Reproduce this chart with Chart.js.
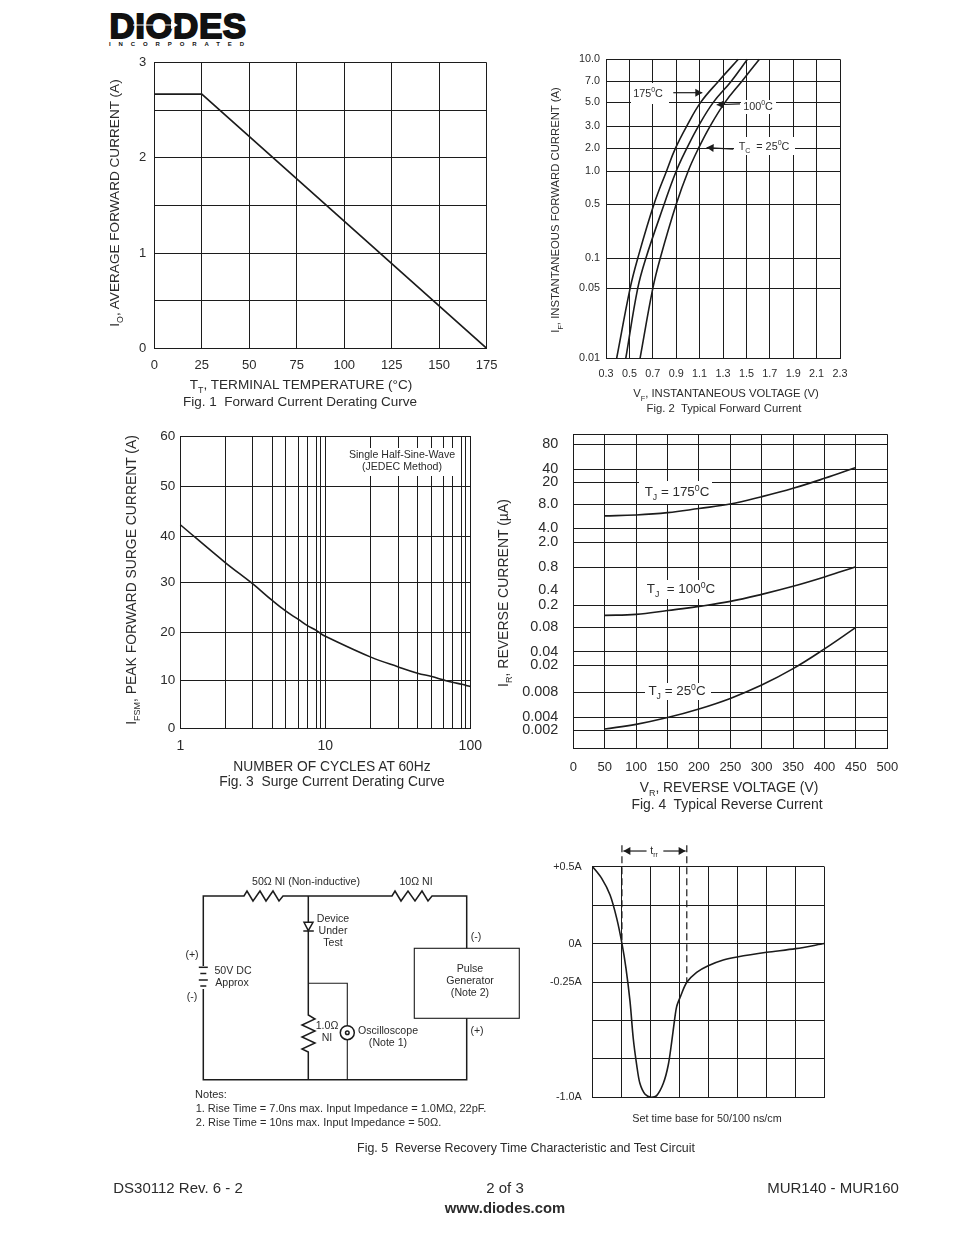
<!DOCTYPE html>
<html>
<head>
<meta charset="utf-8">
<title>MUR140 - MUR160</title>
<script src="https://cdn.jsdelivr.net/npm/chart.js@4/dist/chart.umd.min.js"></script>
<style>
html, body { margin: 0; padding: 0; background: #fff; }
body { position: relative; width: 954px; height: 1235px; overflow: hidden; font-family: "Liberation Sans", Arial, sans-serif; color: #2b2b2b; }
canvas { position: absolute; }
svg { position: absolute; left: 0; top: 0; }
.t { position: absolute; white-space: nowrap; transform: translate(-50%, -50%); line-height: 1; }
.v { transform: translate(-50%, -50%) rotate(-90deg); }
.t sub, .t sup { font-size: 65%; line-height: 0; }
.w { position: absolute; background: #fff; }
</style>
</head>
<body>
<canvas id="fig1" width="400" height="330" style="left:100px;top:50px"></canvas>
<canvas id="fig2" width="330" height="340" style="left:560px;top:45px"></canvas>
<canvas id="fig3" width="350" height="330" style="left:140px;top:425px"></canvas>
<canvas id="fig4" width="400" height="350" style="left:510px;top:425px"></canvas>
<canvas id="fig5" width="295" height="275" style="left:545px;top:835px"></canvas>

<!-- white label boxes that interrupt the grids -->
<div class="w" style="left:631px;top:83px;width:38px;height:21px"></div>
<div class="w" style="left:741px;top:100px;width:35px;height:14px"></div>
<div class="w" style="left:734px;top:137px;width:61px;height:18px"></div>
<div class="w" style="left:350px;top:448px;width:107px;height:28px"></div>
<div class="w" style="left:639px;top:481px;width:73px;height:23px"></div>
<div class="w" style="left:645px;top:580px;width:72px;height:19px"></div>
<div class="w" style="left:645px;top:683px;width:66px;height:17px"></div>

<!-- logo -->
<div class="t" style="left:178px;top:25px;font-size:35px;font-weight:bold;color:#111;-webkit-text-stroke:1.8px #111;letter-spacing:0.5px">DIODES</div>
<div class="t" style="left:180.5px;top:44px;font-size:6px;font-weight:bold;color:#111;letter-spacing:7.9px">INCORPORATED</div>

<!-- logo mark and test circuit -->
<svg width="954" height="1235" viewBox="0 0 954 1235">
  <line x1="133" y1="25" x2="176" y2="25" stroke="#fff" stroke-width="1.2"/>
  <polygon points="171,21 171,29 178,25" fill="#fff"/>
  <g fill="none" stroke="#1c1c1c" stroke-width="1.5">
    <polyline points="203.3,966 203.3,896 244,896 247,891 253,901 260,891 266,901 273,891 279,901 283,896 392,896 395,891 401,901 408,891 415,901 422,891 428,901 432,896 466.7,896 466.7,948.3"/>
    <polyline points="466.7,1018.3 466.7,1079.7 203.3,1079.7 203.3,989"/>
    <polyline points="308.3,896 308.3,1015 315,1019 302,1025 315,1031 302,1037 315,1043 302,1049 308.3,1052 308.3,1079.7"/>
    <polyline points="308.3,983.3 347.3,983.3 347.3,1025.7" stroke-width="1.1"/>
    <line x1="347.3" y1="1039.7" x2="347.3" y2="1079.7" stroke-width="1.1"/>
    <circle cx="347.3" cy="1032.7" r="7"/>
    <circle cx="347.3" cy="1032.7" r="1.8"/>
    <rect x="414.3" y="948.3" width="105" height="70" stroke-width="1.1"/>
    <line x1="198.8" y1="967.3" x2="207.8" y2="967.3"/>
    <line x1="200.3" y1="973.5" x2="206.3" y2="973.5"/>
    <line x1="198.8" y1="980" x2="207.8" y2="980"/>
    <line x1="200.3" y1="986" x2="206.3" y2="986"/>
    <polygon points="304,922.3 313,922.3 308.3,930.7" fill="#fff"/>
    <line x1="303.3" y1="931" x2="313.8" y2="931"/>
  </g>
</svg>

<!-- Fig. 1 text -->
<div class="t v" style="left:115px;top:203px;font-size:13.6px">I<sub>O</sub>, AVERAGE FORWARD CURRENT (A)</div>
<div class="t" style="left:301px;top:385px;font-size:13.6px">T<sub>T</sub>, TERMINAL TEMPERATURE (°C)</div>
<div class="t" style="left:300px;top:402px;font-size:13.5px">Fig. 1&nbsp; Forward Current Derating Curve</div>

<!-- Fig. 2 text -->
<div class="t v" style="left:556px;top:210px;font-size:11.3px">I<sub>F</sub>, INSTANTANEOUS FORWARD CURRENT (A)</div>
<div class="t" style="left:726px;top:394px;font-size:11.3px">V<sub>F</sub>, INSTANTANEOUS VOLTAGE (V)</div>
<div class="t" style="left:724px;top:409px;font-size:11.3px">Fig. 2&nbsp; Typical Forward Current</div>
<div class="t" style="left:648px;top:93px;font-size:10.8px">175<sup>0</sup>C</div>
<div class="t" style="left:758px;top:106px;font-size:10.8px">100<sup>0</sup>C</div>
<div class="t" style="left:764px;top:146px;font-size:10.8px">T<sub>C</sub>&nbsp; = 25<sup>0</sup>C</div>

<!-- Fig. 3 text -->
<div class="t v" style="left:132px;top:580px;font-size:13.9px">I<sub>FSM</sub>, PEAK FORWARD SURGE CURRENT (A)</div>
<div class="t" style="left:332px;top:767px;font-size:13.8px">NUMBER OF CYCLES AT 60Hz</div>
<div class="t" style="left:332px;top:782px;font-size:13.8px">Fig. 3&nbsp; Surge Current Derating Curve</div>
<div class="t" style="left:402px;top:454px;font-size:10.6px">Single Half-Sine-Wave</div>
<div class="t" style="left:402px;top:466px;font-size:10.6px">(JEDEC Method)</div>

<!-- Fig. 4 text -->
<div class="t v" style="left:503px;top:593px;font-size:14px">I<sub>R</sub>, REVERSE CURRENT (µA)</div>
<div class="t" style="left:729px;top:788px;font-size:13.8px">V<sub>R</sub>, REVERSE VOLTAGE (V)</div>
<div class="t" style="left:727px;top:805px;font-size:13.9px">Fig. 4&nbsp; Typical Reverse Current</div>
<div class="t" style="left:677px;top:492px;font-size:13.4px">T<sub>J</sub> = 175<sup>0</sup>C</div>
<div class="t" style="left:681px;top:589px;font-size:13.4px">T<sub>J</sub>&nbsp; = 100<sup>0</sup>C</div>
<div class="t" style="left:677px;top:691px;font-size:13.4px">T<sub>J</sub> = 25<sup>0</sup>C</div>

<!-- Fig. 5 text -->
<div class="t" style="left:654px;top:850px;font-size:10.5px">t<sub>rr</sub></div>
<div class="t" style="left:707px;top:1118px;font-size:10.8px">Set time base for 50/100 ns/cm</div>
<div class="t" style="left:526px;top:1148px;font-size:12.4px">Fig. 5&nbsp; Reverse Recovery Time Characteristic and Test Circuit</div>
<div class="t" style="left:306px;top:881px;font-size:10.6px">50Ω NI (Non-inductive)</div>
<div class="t" style="left:416px;top:881px;font-size:10.6px">10Ω NI</div>
<div class="t" style="left:333px;top:918px;font-size:10.6px">Device</div>
<div class="t" style="left:333px;top:930px;font-size:10.6px">Under</div>
<div class="t" style="left:333px;top:942px;font-size:10.6px">Test</div>
<div class="t" style="left:192px;top:954px;font-size:10.6px">(+)</div>
<div class="t" style="left:192px;top:996px;font-size:10.6px">(-)</div>
<div class="t" style="left:233px;top:970px;font-size:10.6px">50V DC</div>
<div class="t" style="left:232px;top:982px;font-size:10.6px">Approx</div>
<div class="t" style="left:476px;top:936px;font-size:10.6px">(-)</div>
<div class="t" style="left:477px;top:1030px;font-size:10.6px">(+)</div>
<div class="t" style="left:470px;top:968px;font-size:10.6px">Pulse</div>
<div class="t" style="left:470px;top:980px;font-size:10.6px">Generator</div>
<div class="t" style="left:470px;top:992px;font-size:10.6px">(Note 2)</div>
<div class="t" style="left:327px;top:1025px;font-size:10.6px">1.0Ω</div>
<div class="t" style="left:327px;top:1037px;font-size:10.6px">NI</div>
<div class="t" style="left:388px;top:1030px;font-size:10.6px">Oscilloscope</div>
<div class="t" style="left:388px;top:1042px;font-size:10.6px">(Note 1)</div>
<div class="t" style="left:211px;top:1094px;font-size:11px">Notes:</div>
<div class="t" style="left:341px;top:1108px;font-size:11px">1. Rise Time = 7.0ns max. Input Impedance = 1.0MΩ, 22pF.</div>
<div class="t" style="left:318.5px;top:1122px;font-size:11px">2. Rise Time = 10ns max. Input Impedance = 50Ω.</div>

<!-- footer -->
<div class="t" style="left:178px;top:1187px;font-size:15px">DS30112 Rev. 6 - 2</div>
<div class="t" style="left:505px;top:1187px;font-size:15px">2 of 3</div>
<div class="t" style="left:833px;top:1187px;font-size:15px">MUR140 - MUR160</div>
<div class="t" style="left:505px;top:1208px;font-size:14.8px;font-weight:bold">www.diodes.com</div>

<script>
// Fig. 1 forward current derating
const derateTemp = [0, 25, 175];
const derateAmps = [2.67, 2.67, 0];
const derateTempTicks = [0, 25, 50, 75, 100, 125, 150, 175];

// Fig. 2 typical forward current
const forwardAmps = [0.01, 0.05, 0.1, 0.5, 1, 2, 3, 5, 7, 10];
const forwardVolts175 = [0.391, 0.506, 0.571, 0.71, 0.816, 0.893, 0.989, 1.109, 1.26, 1.431];
const forwardVolts100 = [0.469, 0.571, 0.64, 0.797, 0.899, 0.99, 1.089, 1.217, 1.369, 1.509];
const forwardVolts25 = [0.591, 0.7, 0.763, 0.9, 1.001, 1.09, 1.189, 1.317, 1.46, 1.611];
const forwardVoltTicks = [0.3, 0.5, 0.7, 0.9, 1.1, 1.3, 1.5, 1.7, 1.9, 2.1, 2.3];
// the printed axis is hand spaced, so each tick keeps its own place along the axis
const forwardAmpStops = [0, 0.234, 0.334, 0.515, 0.625, 0.702, 0.776, 0.856, 0.926, 1];

// Fig. 3 surge current
const surgeCycles = [1, 2, 3, 4, 5, 6, 7, 8, 9, 10, 20, 30, 40, 50, 60, 70, 80, 90, 100];
const surgeAmps = [42.3, 34.3, 29.8, 26.4, 24.3, 22.6, 21.4, 20.4, 19.8, 19.2, 14.9, 12.8, 11.5, 10.8, 10.1, 9.6, 9.2, 9, 8.7];
const surgeCycleStops = [0, 0.155, 0.248, 0.317, 0.363, 0.407, 0.437, 0.469, 0.483, 0.5, 0.655, 0.752, 0.818, 0.867, 0.907, 0.938, 0.97, 0.984, 1];
const surgeAmpTicks = [0, 10, 20, 30, 40, 50, 60];
const surgeAmpStops = [0, 0.164, 0.328, 0.499, 0.657, 0.828, 1];

// Fig. 4 typical reverse current
const reverseVolts = [50, 100, 150, 200, 250, 300, 350, 400, 450];
const reverseAmps175 = [5.75, 5.9, 6.3, 7.1, 8.1, 11, 15.6, 24.7, 41.9];
const reverseAmps100 = [0.132, 0.138, 0.162, 0.192, 0.24, 0.329, 0.448, 0.596, 0.82];
const reverseAmps25 = [0.00215, 0.00275, 0.00393, 0.00504, 0.00677, 0.01026, 0.0179, 0.0432, 0.08];
const reverseVoltTicks = [0, 50, 100, 150, 200, 250, 300, 350, 400, 450, 500];
const reverseAmpTicks = [0.001, 0.002, 0.004, 0.008, 0.02, 0.04, 0.08, 0.2, 0.4, 0.8, 2, 4, 8, 20, 40, 80, 200];
const reverseAmpLabels = ['', '0.002', '0.004', '0.008', '0.02', '0.04', '0.08', '0.2', '0.4', '0.8', '2.0', '4.0', '8.0', '20', '40', '80', ''];
const reverseAmpStops = [0, 0.057, 0.099, 0.178, 0.264, 0.308, 0.385, 0.455, 0.504, 0.576, 0.656, 0.7, 0.777, 0.847, 0.889, 0.968, 1];

// Fig. 5 reverse recovery waveform, time in graticule divisions
const recoveryTime = [0, 0.31, 0.6, 0.83, 1.01, 1.15, 1.29, 1.4, 1.52, 1.63, 1.81, 2.03, 2.21, 2.44, 2.61, 2.73, 2.82, 2.9, 3.03, 3.25, 3.59, 3.99, 4.51, 4.99, 6.01, 7.01, 8];
const recoveryAmps = [0.5, 0.424, 0.316, 0.164, 0.001, -0.161, -0.378, -0.616, -0.79, -0.909, -0.98, -1, -0.989, -0.909, -0.79, -0.638, -0.508, -0.41, -0.345, -0.252, -0.187, -0.144, -0.107, -0.087, -0.057, -0.033, 0];
const recoveryAmpTicks = [-1, -0.75, -0.5, -0.25, 0, 0.25, 0.5];
const recoveryAmpLabels = { '0.5': '+0.5A', '0': '0A', '-0.25': '-0.25A', '-1': '-1.0A' };
const trrStart = 1.01;
const trrEnd = 3.25;

const INK = '#1c1c1c';
const TEXT = '#2b2b2b';
Chart.defaults.font.family = '"Liberation Sans", Arial, sans-serif';
Chart.defaults.color = TEXT;

// axis whose ticks sit at given places, interpolated between them
class StopScale extends Chart.Scale {
  static id = 'stops';
  static defaults = {};
  determineDataLimits() {
    const vals = this.options.tickValues;
    this.min = vals[0];
    this.max = vals[vals.length - 1];
  }
  buildTicks() {
    return Array.from(this.options.tickValues, v => ({ value: v }));
  }
  toAxis(v) {
    return this.options.logSpaced ? Math.log(v) : v;
  }
  getPixelForValue(value) {
    const vals = this.options.tickValues;
    const stops = this.options.stops;
    let i = 0;
    while (i < vals.length - 2 && value > vals[i + 1]) i++;
    const f = (this.toAxis(value) - this.toAxis(vals[i])) / (this.toAxis(vals[i + 1]) - this.toAxis(vals[i]));
    return this.getPixelForDecimal(stops[i] + f * (stops[i + 1] - stops[i]));
  }
  getValueForPixel(pixel) {
    const d = this.getDecimalForPixel(pixel);
    const vals = this.options.tickValues;
    const stops = this.options.stops;
    let i = 0;
    while (i < stops.length - 2 && d > stops[i + 1]) i++;
    return vals[i] + (d - stops[i]) / (stops[i + 1] - stops[i]) * (vals[i + 1] - vals[i]);
  }
  getLabelForValue(value) {
    return String(value);
  }
}
Chart.register(StopScale);

// small filled arrows, given in data values
const arrowPlugin = {
  id: 'arrows',
  afterDatasetsDraw(chart, args, opts) {
    const { ctx, scales } = chart;
    (opts.list || []).forEach(a => {
      const x1 = scales.x.getPixelForValue(a[0]);
      const y1 = scales.y.getPixelForValue(a[1]);
      const x2 = scales.x.getPixelForValue(a[2]);
      const y2 = scales.y.getPixelForValue(a[3]);
      const ang = Math.atan2(y2 - y1, x2 - x1);
      ctx.save();
      ctx.strokeStyle = INK;
      ctx.fillStyle = INK;
      ctx.lineWidth = 1.2;
      ctx.beginPath();
      ctx.moveTo(x1, y1);
      ctx.lineTo(x2, y2);
      ctx.stroke();
      ctx.translate(x2, y2);
      ctx.rotate(ang);
      ctx.beginPath();
      ctx.moveTo(0, 0);
      ctx.lineTo(-7, -4);
      ctx.lineTo(-7, 4);
      ctx.closePath();
      ctx.fill();
      ctx.restore();
    });
  }
};

function pairs(xs, ys) {
  return xs.map((x, i) => ({ x: x, y: ys[i] }));
}

function curve(xs, ys, bend) {
  return {
    data: pairs(xs, ys),
    showLine: true,
    borderColor: INK,
    borderWidth: 1.6,
    pointRadius: 0,
    tension: bend === undefined ? 0.4 : bend
  };
}

function axisStyle(size, pad, extra) {
  const ticks = Object.assign({ font: { size: size }, color: TEXT, padding: pad, autoSkip: false, maxRotation: 0, minRotation: 0 }, extra.ticks);
  return Object.assign({
    grid: { color: INK, lineWidth: 1, drawTicks: false },
    border: { color: INK, width: 1 }
  }, extra, { ticks: ticks });
}

// plot is the chart area given inside the canvas: left, top, right, bottom
function drawFig(id, plot, datasets, xAxis, yAxis, arrows) {
  const cv = document.getElementById(id);
  // tick label overhang must not push the chart area in
  const noOverhang = s => { s.paddingLeft = 0; s.paddingRight = 0; s.paddingTop = 0; s.paddingBottom = 0; };
  xAxis.afterFit = s => { s.height = cv.height - plot[3]; noOverhang(s); };
  yAxis.afterFit = s => { s.width = plot[0]; noOverhang(s); };
  return new Chart(cv, {
    type: 'scatter',
    data: { datasets: datasets },
    options: {
      responsive: false,
      animation: false,
      events: [],
      layout: { padding: { top: plot[1], right: cv.width - plot[2], left: 0, bottom: 0 } },
      plugins: { legend: { display: false }, tooltip: { enabled: false }, arrows: { list: arrows || [] } },
      scales: { x: xAxis, y: yAxis }
    },
    plugins: [arrowPlugin]
  });
}

drawFig('fig1', [54.3, 12.7, 386.7, 298.3],
  [curve(derateTemp, derateAmps, 0)],
  axisStyle(13, 9, {
    type: 'linear', min: 0, max: 175,
    afterBuildTicks: ax => { ax.ticks = derateTempTicks.map(v => ({ value: v })); },
    ticks: { callback: v => String(v) }
  }),
  axisStyle(13, 8, {
    type: 'linear', min: 0, max: 3,
    ticks: { stepSize: 0.5, callback: v => Number.isInteger(v) ? String(v) : '' }
  })
);

drawFig('fig2', [46, 14.3, 280, 313.3],
  [curve(forwardVolts175, forwardAmps), curve(forwardVolts100, forwardAmps), curve(forwardVolts25, forwardAmps)],
  axisStyle(10.8, 9, {
    type: 'linear', min: 0.3, max: 2.3,
    afterBuildTicks: ax => { ax.ticks = forwardVoltTicks.map(v => ({ value: v })); },
    ticks: { callback: v => v.toFixed(1) }
  }),
  axisStyle(10.8, 6, {
    type: 'stops', logSpaced: true, tickValues: forwardAmps, stops: forwardAmpStops,
    ticks: { callback: v => v >= 1 || v === 0.5 || v === 0.1 ? v.toFixed(1) : String(v) }
  }),
  [[0.875, 5.84, 1.123, 5.84], [1.445, 4.85, 1.246, 4.75], [1.388, 1.96, 1.16, 2.03]]
);

drawFig('fig3', [40.3, 11, 330.3, 303.3],
  [curve(surgeCycles, surgeAmps)],
  axisStyle(14, 9, {
    type: 'stops', logSpaced: true, tickValues: surgeCycles, stops: surgeCycleStops,
    ticks: { callback: v => v === 1 || v === 10 || v === 100 ? String(v) : '' }
  }),
  axisStyle(13.5, 5, {
    type: 'stops', tickValues: surgeAmpTicks, stops: surgeAmpStops,
    ticks: { callback: v => String(v) }
  })
);

drawFig('fig4', [63.3, 9.3, 377.3, 323.3],
  [curve(reverseVolts, reverseAmps175), curve(reverseVolts, reverseAmps100), curve(reverseVolts, reverseAmps25)],
  axisStyle(13, 11, {
    type: 'linear', min: 0, max: 500,
    afterBuildTicks: ax => { ax.ticks = reverseVoltTicks.map(v => ({ value: v })); },
    ticks: { callback: v => String(v) }
  }),
  Object.assign(axisStyle(14.4, 15, {
    type: 'stops', logSpaced: true, tickValues: reverseAmpTicks, stops: reverseAmpStops,
    ticks: { callback: (v, i) => reverseAmpLabels[i] }
  }), {
    // 0.4 is labelled but has no grid line in the print
    grid: { drawTicks: false, lineWidth: 1, color: c => c.tick && c.tick.value === 0.4 ? 'rgba(0,0,0,0)' : INK }
  })
);

function dashed(x, yTo) {
  return {
    data: [{ x: x, y: 0.64 }, { x: x, y: yTo }],
    showLine: true,
    clip: false,
    borderColor: INK,
    borderWidth: 1.2,
    borderDash: [7, 4],
    pointRadius: 0
  };
}

drawFig('fig5', [47.7, 31.7, 279.3, 262.3],
  [curve(recoveryTime, recoveryAmps, 0.3), dashed(trrStart, 0), dashed(trrEnd, -0.25)],
  axisStyle(10.8, 6, {
    type: 'linear', min: 0, max: 8,
    ticks: { stepSize: 1, callback: () => '' }
  }),
  axisStyle(10.8, 11, {
    type: 'linear', min: -1, max: 0.5,
    afterBuildTicks: ax => { ax.ticks = recoveryAmpTicks.map(v => ({ value: v })); },
    ticks: { callback: v => recoveryAmpLabels[String(v)] || '' }
  }),
  [[1.86, 0.602, 1.06, 0.602], [2.44, 0.602, 3.21, 0.602]]
);
</script>
</body>
</html>
